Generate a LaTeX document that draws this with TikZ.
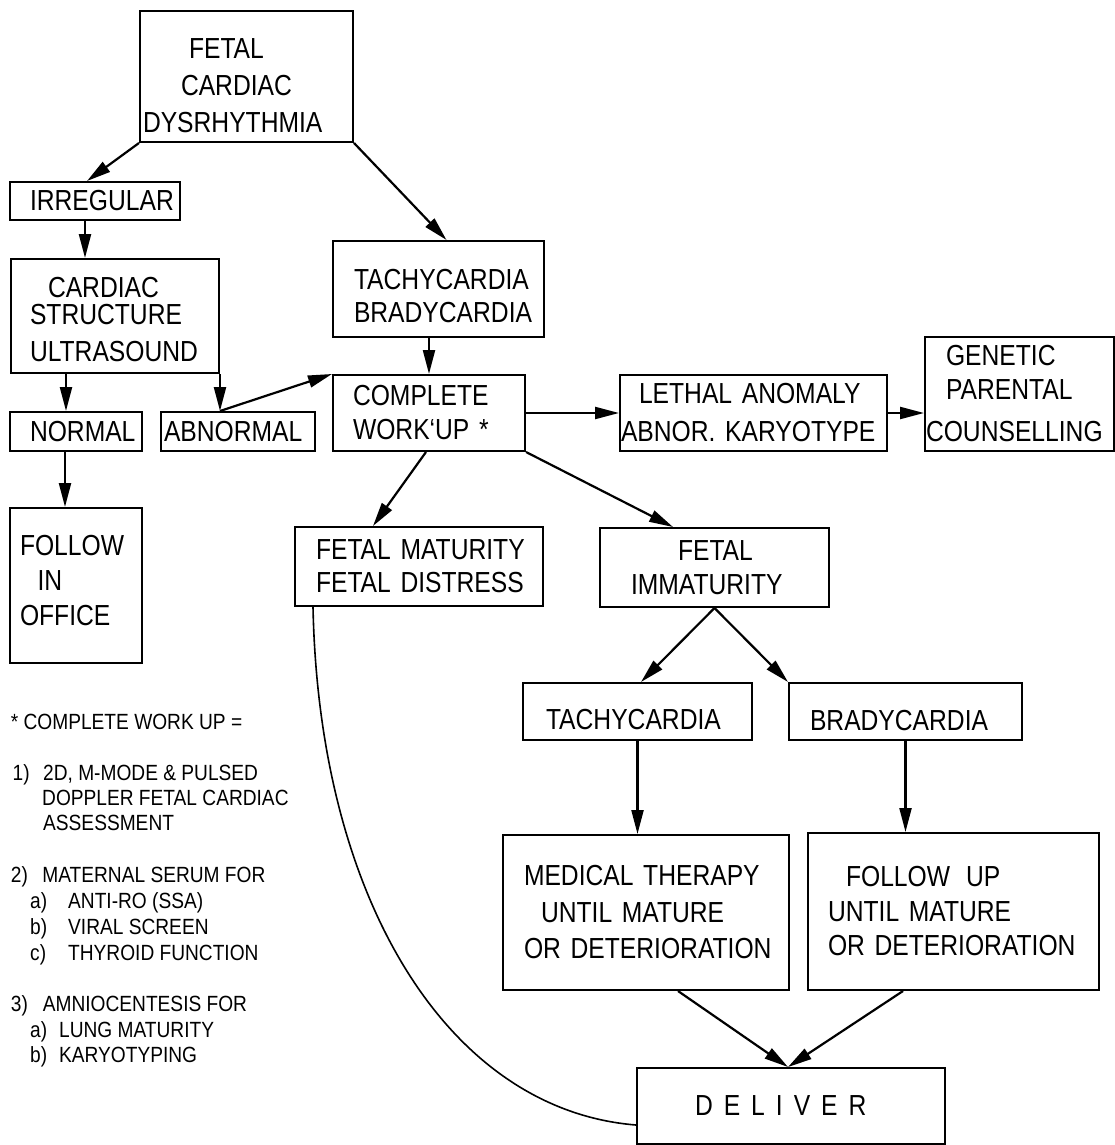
\documentclass[tikz,border=0pt]{standalone}
\usepackage{fontspec}
\setmainfont{Liberation Sans}[FakeStretch=0.85]
\newfontfamily\legfont{Liberation Sans}[FakeStretch=0.87]
\usetikzlibrary{arrows.meta,calc}
\begin{document}
\begin{tikzpicture}[x=1pt,y=-1pt,
  box/.style={draw, line width=2pt, inner sep=0pt, align=left,
    font=\fontsize{29}{35}\selectfont, execute at begin node=\noindent},
  arr/.style={line width=2.2pt, -{Triangle[length=24pt,width=12pt]}},
  curv/.style={line width=1.6pt},
  leg/.style={anchor=base west, inner sep=0pt, font=\legfont\fontsize{22}{25}\selectfont}]
\fill[white] (0,0) rectangle (1115,1145);
\useasboundingbox (0,0) rectangle (1115,1145);

% boxes
\node[box, minimum width=213pt, minimum height=131pt, text width=207pt, font=\fontsize{29}{37}\selectfont] (fetal) at (246.5,76.5)
  {\rule{0pt}{38pt}\hspace*{46pt}FETAL\\\hspace*{38pt}CARDIAC\\DYSRHYTHMIA};
\node[box, minimum width=170pt, minimum height=38pt, text width=130pt] (irr) at (95,201) {IRREGULAR};
\node[box, minimum width=208pt, minimum height=114pt, text width=170pt] (card) at (115,316)
  {\rule{0pt}{28pt}\hspace*{18pt}CARDIAC\\[-8pt]STRUCTURE\\[2pt]ULTRASOUND};
\node[box, minimum width=132pt, minimum height=39pt, text width=92pt] (normal) at (76,431.5) {NORMAL};
\node[box, minimum width=154pt, minimum height=39pt, text width=148pt] (abn) at (238,431.5) {ABNORMAL};
\node[box, minimum width=132pt, minimum height=155pt, text width=112pt] (fol) at (76,585.5)
  {FOLLOW\\\hspace*{17.5pt}IN\\OFFICE\rule[-11pt]{0pt}{11pt}};
\node[box, minimum width=211pt, minimum height=96pt, text width=169pt, font=\fontsize{29}{33}\selectfont] (tb) at (438.5,289)
  {\rule{0pt}{35pt}TACHYCARDIA\\BRADYCARDIA};
\node[box, minimum width=192pt, minimum height=76pt, text width=152pt, font=\fontsize{29}{34}\selectfont] (cw) at (429,413)
  {COMPLETE\\\mbox{WORK‘UP *}};
\node[box, minimum width=267pt, minimum height=76pt, text width=265pt, font=\fontsize{29}{38}\selectfont] (leth) at (753.5,413)
  {\hspace*{18pt}\mbox{LETHAL ANOMALY}\\\mbox{ABNOR. KARYOTYPE}};
\node[box, minimum width=189pt, minimum height=114pt, text width=187pt] (gen) at (1019.5,394)
  {\hspace*{20pt}GENETIC\\[-1pt]\hspace*{20pt}PARENTAL\\[7pt]COUNSELLING};
\node[box, minimum width=248pt, minimum height=79pt, text width=206pt, font=\fontsize{29}{33}\selectfont] (mat) at (419,566.5)
  {\mbox{FETAL MATURITY}\\\mbox{FETAL DISTRESS}};
\node[box, minimum width=229pt, minimum height=79pt, text width=167pt, font=\fontsize{29}{34}\selectfont] (imm) at (714.5,567.5)
  {\hspace*{47pt}FETAL\\IMMATURITY};
\node[box, minimum width=229pt, minimum height=57pt, text width=183pt] (tach) at (637.5,711.5)
  {\rule{0pt}{37pt}TACHYCARDIA};
\node[box, minimum width=233pt, minimum height=57pt, text width=191pt] (brad) at (905.5,711.5)
  {\rule{0pt}{38pt}BRADYCARDIA};
\node[box, minimum width=286pt, minimum height=155pt, text width=244pt, font=\fontsize{29}{36.5}\selectfont] (med) at (646,912.5)
  {\mbox{MEDICAL THERAPY}\\\hspace*{17pt}\mbox{UNTIL MATURE}\\\mbox{OR DETERIORATION}};
\node[box, minimum width=291pt, minimum height=157pt, text width=251pt, font=\fontsize{29}{34.5}\selectfont] (fu) at (953.5,911.5)
  {\hspace*{18pt}\mbox{FOLLOW\hspace{16pt}UP}\\\mbox{UNTIL MATURE}\\\mbox{OR DETERIORATION}};
\node[box, minimum width=308pt, minimum height=76pt, text width=192pt] (del) at (791,1106)
  {\mbox{D\hspace{11pt}E\hspace{11pt}L\hspace{11pt}I\hspace{11pt}V\hspace{11pt}E\hspace{11pt}R}};

% connectors
\draw[arr] (fetal.south west) -- ([xshift=-8pt]irr.north);
\draw[arr] (fetal.south east) -- ([xshift=8pt]tb.north);
\draw[arr] ([xshift=-10pt]irr.south) -- ([xshift=-10pt]irr.south |- card.north);
\draw[arr] ([xshift=-10pt]normal.north |- card.south) -- ([xshift=-10pt]normal.north);
\draw[arr] (card.south east) -- (card.south east |- abn.north);
\draw[arr] (card.south east |- abn.north) -- (cw.north west);
\draw[arr] ([xshift=-11pt]normal.south) -- ([xshift=-11pt]normal.south |- fol.north);
\draw[arr] (cw.north |- tb.south) -- (cw.north);
\draw[arr] (cw.east) -- (leth.west);
\draw[arr] (leth.east) -- (leth.east -| gen.west);
\draw[arr] ([xshift=-3pt]cw.south) -- ([xshift=-46pt]mat.north);
\draw[arr] (cw.south east) -- ([xshift=-41.5pt]imm.north);
\draw[arr] (imm.south) -- ([xshift=3.5pt]tach.north);
\draw[arr] (imm.south) -- (brad.north west);
\draw[arr] (tach.south) -- (tach.south |- med.north);
\draw[arr] (brad.south) -- (brad.south |- fu.north);
\draw[arr] ([xshift=32pt]med.south) -- ([xshift=-3pt]del.north);
\draw[arr] ([xshift=-50.5pt]fu.south) -- ([xshift=-3pt]del.north);
\draw[curv] ([xshift=19pt]mat.south west) .. controls +(6,294) and +(-187,-15) .. ([yshift=-19pt]del.west);

% legend
\node[leg] (l0) at (10.7,729.5) {* COMPLETE WORK UP =};
\node[leg] (l1) at (12.5,780.5) {\makebox[30.5pt][l]{1)}2D, M-MODE \& PULSED};
\node[leg] (l2) at (42,805.5) {DOPPLER FETAL CARDIAC};
\node[leg] (l3) at (43,830.5) {ASSESSMENT};
\node[leg] (l4) at (10.7,882.5) {\makebox[31.5pt][l]{2)}MATERNAL SERUM FOR};
\node[leg] (l5) at (30,908.5) {\makebox[38pt][l]{a)}ANTI-RO (SSA)};
\node[leg] (l6) at (30,934.5) {\makebox[38pt][l]{b)}VIRAL SCREEN};
\node[leg] (l7) at (30,960.5) {\makebox[38pt][l]{c)}THYROID FUNCTION};
\node[leg] (l8) at (10.7,1011.5) {\makebox[32pt][l]{3)}AMNIOCENTESIS FOR};
\node[leg] (l9) at (30,1037.5) {\makebox[29pt][l]{a)}LUNG MATURITY};
\node[leg] (l10) at (30,1062.5) {\makebox[29pt][l]{b)}KARYOTYPING};
\end{tikzpicture}
\end{document}
